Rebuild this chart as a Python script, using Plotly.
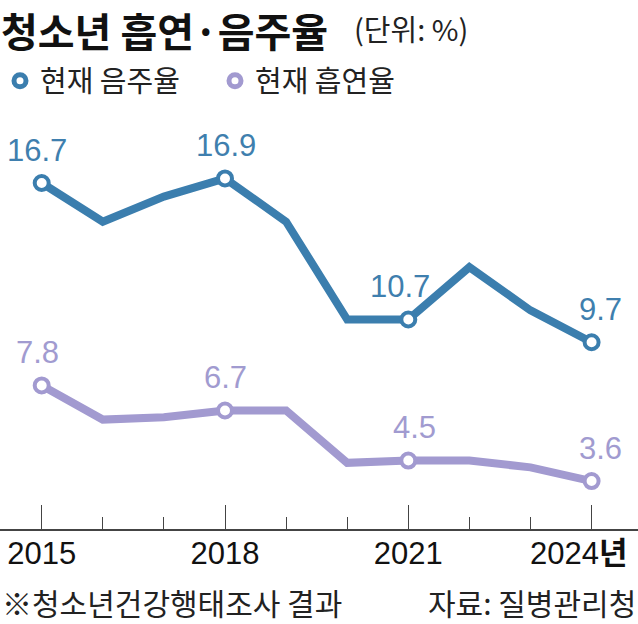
import plotly.graph_objects as go

years = [2015, 2016, 2017, 2018, 2019, 2020, 2021, 2022, 2023, 2024]
drinking = [16.7, 15.0, 16.1, 16.9, 15.0, 10.7, 10.7, 13.0, 11.1, 9.7]
smoking = [7.8, 6.3, 6.4, 6.7, 6.7, 4.4, 4.5, 4.5, 4.2, 3.6]
label_years = [2015, 2018, 2021, 2024]
tick_labels = ["2015", "2018", "2021", "2024<b>년</b>\u00a0\u00a0\u00a0"]
series_names = ["현재 음주율", "현재 흡연율"]
title_text = "청소년 흡연·음주율"
unit_text = "(단위: %)"
note_text = "※청소년건강행태조사 결과"
source_text = "자료: 질병관리청"

BLUE = "#3b7eae"
PURPLE = "#a29ad0"
BLUE_TXT = "#3f7fae"
PURPLE_TXT = "#a19bd0"

W, H = 638, 624
TOP, BOTTOM = 100, 529  # plot area in pixels


def px_x(p):
    return p / W


def px_y(p):
    return (BOTTOM - p) / (BOTTOM - TOP)


fig = go.Figure()

for vals, color, name in [(drinking, BLUE, series_names[0]), (smoking, PURPLE, series_names[1])]:
    fig.add_trace(go.Scatter(x=years, y=vals, mode="lines", line=dict(color=color, width=8),
                             showlegend=False, hoverinfo="skip"))
    sel = [v for y, v in zip(years, vals) if y in label_years]
    fig.add_trace(go.Scatter(x=label_years, y=sel, mode="markers",
                             marker=dict(symbol="circle", size=14, color="white",
                                         line=dict(color=color, width=4)),
                             showlegend=False))
    # legend-only entry
    fig.add_trace(go.Scatter(x=[None], y=[None], mode="markers", name=name,
                             marker=dict(symbol="circle", size=12, color="white",
                                         line=dict(color=color, width=5)),
                             showlegend=True))

# value labels
xshift_d = {2015: -5, 2018: 1, 2021: -8, 2024: 9}
xshift_s = {2015: -4, 2018: 0, 2021: 6, 2024: 9}
annotations = []
for vals, color, shifts in [(drinking, BLUE_TXT, xshift_d), (smoking, PURPLE_TXT, xshift_s)]:
    for y, v in zip(years, vals):
        if y in label_years:
            annotations.append(dict(x=y, y=v, xref="x", yref="y", text=f"{v:.1f}",
                                    showarrow=False, yshift=33, xshift=shifts[y],
                                    font=dict(family="Liberation Sans, Arial, sans-serif",
                                              size=31, color=color)))

annotations += [
    dict(x=px_x(0), y=px_y(0), xref="paper", yref="paper", xanchor="left", yanchor="top",
         text=f"<b>{title_text}</b>", showarrow=False, borderpad=0,
         font=dict(family="Noto Sans CJK KR", size=40, color="#111111")),
    dict(x=px_x(352), y=px_y(28), xref="paper", yref="paper", xanchor="left", yanchor="middle",
         text=unit_text, showarrow=False,
         font=dict(family="Noto Sans CJK KR", size=29, color="#222222")),
    dict(x=px_x(0), y=px_y(602), xref="paper", yref="paper", xanchor="left", yanchor="middle",
         text=note_text, showarrow=False,
         font=dict(family="Noto Sans CJK KR", size=30, color="#222222")),
    dict(x=px_x(638), y=px_y(602), xref="paper", yref="paper", xanchor="right", yanchor="middle",
         text=source_text, showarrow=False,
         font=dict(family="Noto Sans CJK KR", size=30, color="#222222")),
]

fig.update_layout(
    width=W, height=H, autosize=False,
    margin=dict(l=0, r=0, t=TOP, b=H - BOTTOM, pad=0, autoexpand=False),
    paper_bgcolor="white", plot_bgcolor="white",
    annotations=annotations,
    legend=dict(orientation="h", x=0, y=px_y(81), xanchor="left", yanchor="middle",
                entrywidth=170, entrywidthmode="pixels",
                font=dict(family="Noto Sans CJK KR", size=29, color="#222222"),
                bgcolor="rgba(0,0,0,0)", borderwidth=0, itemsizing="trace"),
    xaxis=dict(range=[2015 - 41.7 / 61.1, 2015 + 596.3 / 61.1], showgrid=False, zeroline=False,
               showline=True, linecolor="#444444", linewidth=1.5, automargin=False,
               ticks="inside", ticklen=24, tickwidth=1.2, tickcolor="#444444",
               tickvals=label_years, ticktext=tick_labels, ticklabelstandoff=-4,
               ticklabeloverflow="allow",
               tickfont=dict(family="Liberation Sans, Noto Sans CJK KR, sans-serif", size=31, color="#111111"),
               minor=dict(tickvals=years, ticks="inside", ticklen=12, tickwidth=1.2, tickcolor="#444444")),
    yaxis=dict(range=[16.7 - (BOTTOM - 183) / 22.75, 16.7 + (183 - TOP) / 22.75],
               visible=False, showgrid=False, zeroline=False, automargin=False),
)

fig.write_html("out.html", config={"displayModeBar": False},
               post_script="document.body.style.margin='0';document.body.style.overflow='hidden';")
